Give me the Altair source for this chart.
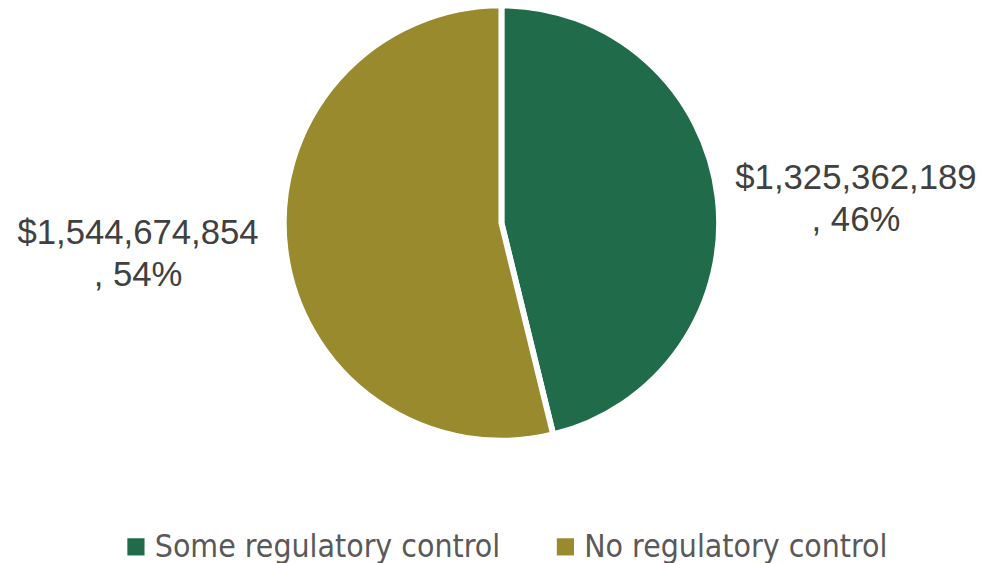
import altair as alt
import pandas as pd

categories = ["Some regulatory control", "No regulatory control"]
values = [1325362189, 1544674854]
amount_labels = ["$1,325,362,189", "$1,544,674,854"]
pct_labels = [", 46%", ", 54%"]
colors = ["#1f6b4a", "#9a8a2e"]

df = pd.DataFrame({
    "category": categories,
    "value": values,
    "order": list(range(len(categories))),
    "label": [a + "\n" + p for a, p in zip(amount_labels, pct_labels)],
})

CX, CY = 497.5, 214.5

base = alt.Chart(df).encode(
    theta=alt.Theta("value:Q", stack=True),
    order=alt.Order("order:Q"),
    x=alt.value(CX),
    y=alt.value(CY),
)

color = alt.Color(
    "category:N",
    scale=alt.Scale(domain=categories, range=colors),
    sort=categories,
    legend=alt.Legend(
        title=None,
        orient="none",
        direction="horizontal",
        legendX=113,
        legendY=525,
        symbolType="square",
        symbolSize=300,
        symbolStrokeWidth=0,
        labelFont="DejaVu Sans Condensed",
        labelFontSize=32,
        labelColor="#595959",
        labelOffset=3,
        columnPadding=49,
        labelLimit=600,
    ),
)

pie = base.mark_arc(outerRadius=219.5, stroke="white", strokeWidth=6).encode(color=color)

def label_layer(cat, dx, dy):
    return base.mark_text(
        radius=360,
        font="Liberation Sans",
        fontSize=35,
        color="#404040",
        align="center",
        baseline="middle",
        lineBreak="\n",
        lineHeight=42,
        dx=dx,
        dy=dy,
    ).encode(
        text=alt.condition(alt.datum.category == cat, alt.Text("label:N"), alt.value(""))
    )

right = label_layer(categories[0], 0, -2)
left = label_layer(categories[1], -9, -33)

chart = alt.layer(pie, right, left).properties(
    width=980,
    height=555,
    padding=0,
    autosize=alt.AutoSizeParams(type="none"),
).configure(
    background="white",
    view=alt.ViewConfig(strokeWidth=0, stroke="transparent"),
)

chart.save("out.html", embed_options={"renderer": "svg", "actions": False})
